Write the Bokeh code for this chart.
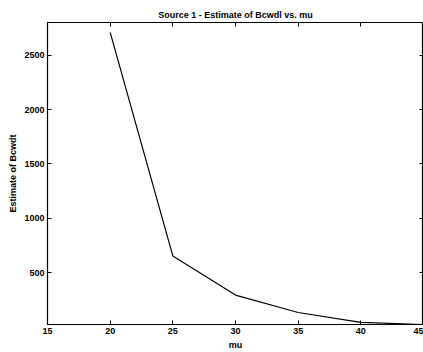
from bokeh.plotting import figure
from bokeh.models import LinearAxis, Range1d, FixedTicker
from bokeh.embed import file_html
from bokeh.resources import INLINE

mu = [20, 25, 30, 35, 40, 45]
estimate = [2710, 655, 295, 135, 45, 25]
x_ticks = [15, 20, 25, 30, 35, 40, 45]
y_ticks = [500, 1000, 1500, 2000, 2500]

FONT = "Liberation Sans"

p = figure(width=423, height=352, output_backend="svg", toolbar_location=None,
           x_range=Range1d(15, 45), y_range=Range1d(25, 2800),
           min_border_left=47, min_border_right=0, min_border_top=22, min_border_bottom=24,
           title="Source 1 - Estimate of Bcwdl vs. mu")
p.title.align = "center"
p.title.text_font = FONT
p.title.text_font_size = "9px"
p.title.text_font_style = "bold"
p.title.text_color = "black"
p.title.offset = 0
p.title.standoff = 6

p.grid.visible = False
p.outline_line_color = "black"
p.outline_line_width = 1.2

p.line(mu, estimate, line_color="black", line_width=1.2)

for ax in p.xaxis:
    ax.ticker = FixedTicker(ticks=x_ticks)
    ax.axis_label = "mu"
for ax in p.yaxis:
    ax.ticker = FixedTicker(ticks=y_ticks)
    ax.axis_label = "Estimate of Bcwdt"

for ax in p.xaxis + p.yaxis:
    ax.major_tick_in = 4
    ax.major_tick_out = 0
    ax.minor_tick_line_color = None
    ax.axis_line_color = "black"
    ax.major_tick_line_color = "black"
    ax.major_label_text_font = FONT
    ax.major_label_text_font_size = "9px"
    ax.major_label_text_font_style = "bold"
    ax.major_label_text_color = "black"
    ax.axis_label_text_font = FONT
    ax.axis_label_text_font_size = "9px"
    ax.axis_label_text_font_style = "bold"
    ax.axis_label_text_color = "black"
    ax.major_label_standoff = 3
    ax.axis_label_standoff = 3

top = LinearAxis(ticker=FixedTicker(ticks=x_ticks), major_label_text_color=None,
                 major_label_text_font_size="1px", major_label_standoff=0,
                 major_tick_in=4, major_tick_out=0, minor_tick_line_color=None)
right = LinearAxis(ticker=FixedTicker(ticks=y_ticks), major_label_text_color=None,
                   major_label_text_font_size="1px", major_label_standoff=0,
                   major_tick_in=4, major_tick_out=0, minor_tick_line_color=None)
p.add_layout(top, "above")
p.add_layout(right, "right")

open("out.html", "w").write(file_html(p, INLINE))
